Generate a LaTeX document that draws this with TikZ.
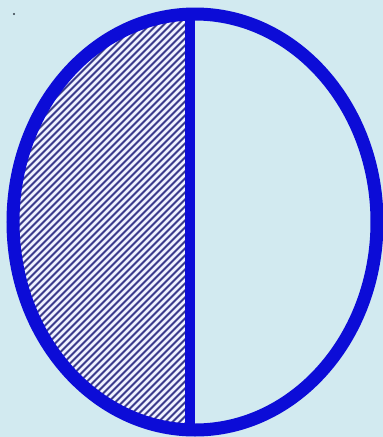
\documentclass[tikz,border=0pt]{standalone}
\usetikzlibrary{calc}
\definecolor{bgc}{RGB}{210,234,240}
\definecolor{rimblue}{RGB}{12,12,215}
\definecolor{hatchnavy}{RGB}{60,60,140}
\definecolor{hatchwhite}{RGB}{240,242,255}
\definecolor{dotgray}{RGB}{50,60,70}
\tikzset{
  rim/.style={draw=rimblue, line width=13pt},
  divider/.style={draw=rimblue, line width=10pt},
  stripe/.style={draw=hatchwhite, line width=2.6pt}
}
\begin{document}
\begin{tikzpicture}[x=1pt,y=-1pt]
\useasboundingbox (0,0) rectangle (383,437);
\fill[bgc] (0,0) rectangle (383,437);
\coordinate (c) at (195,222);
\fill[dotgray] (14,14) circle (1.2);
% hatched left half
\begin{scope}
  \clip (c) ellipse [x radius=182, y radius=208];
  \clip (0,0) rectangle (190,437);
  \fill[hatchnavy] (0,0) rectangle (190,437);
  \foreach \i in {-70,...,32} {
    \draw[stripe] (\i*7,437) -- ++(437,-437);
  }
\end{scope}
% rim
\draw[rim] (c) ellipse [x radius=182, y radius=208];
% divider
\coordinate (top) at (190,14);
\coordinate (bot) at (190,430);
\draw[divider] (top) -- (bot);
\end{tikzpicture}
\end{document}
